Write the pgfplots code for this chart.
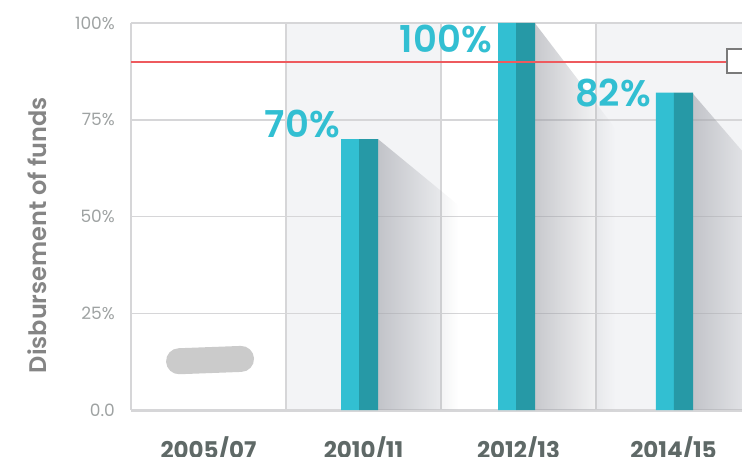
\documentclass[border=0pt]{standalone}
\usepackage{fontspec}
\setmainfont{Poppins}
\newfontfamily\semib{Poppins SemiBold}
\usepackage{pgfplots}
\pgfplotsset{compat=1.18}
\usetikzlibrary{fadings}
\definecolor{barL}{HTML}{32BFD2}
\definecolor{barD}{HTML}{2699A6}
\definecolor{colbg}{HTML}{F3F4F6}
\definecolor{gridc}{HTML}{D6D6D8}
\definecolor{redl}{HTML}{EE5A5E}
\definecolor{tickc}{HTML}{9EA2A2}
\definecolor{xlab}{HTML}{5F6967}
\definecolor{ylab}{HTML}{858585}
\definecolor{pill}{HTML}{CBCBCB}
\definecolor{shad}{HTML}{9A9CA4}
\definecolor{boxc}{HTML}{7A7A7A}
\tikzfading[name=fade right, left color=transparent!0, right color=transparent!100]
\begin{document}
\begin{tikzpicture}
\begin{axis}[
  set layers,
  scale only axis, width=611pt, height=387pt,
  xmin=-0.5, xmax=3.442, ymin=0, ymax=100,
  axis x line*=bottom, axis y line*=left,
  x axis line style={draw=gridc, line width=3pt},
  y axis line style={draw=gridc, line width=1.5pt},
  xtick={0,1,2,3}, xticklabels={2005/07,2010/11,2012/13,2014/15},
  ytick={0,25,50,75,100}, yticklabels={0.0,25\%,50\%,75\%,100\%},
  major tick length=0pt, minor tick length=0pt,
  minor xtick={0.5,1.5,2.5}, xminorgrids=true, xmajorgrids=false,
  ymajorgrids=true,
  grid style={draw=gridc, line width=1.5pt},
  minor grid style={draw=gridc, line width=1.5pt},
  xticklabel style={font=\bfseries\fontsize{23}{27}\selectfont, text=xlab, anchor=north, inner sep=0pt, yshift=-26pt},
  yticklabel style={font=\fontsize{17}{19}\selectfont, text=tickc, anchor=east, inner sep=0pt, xshift=-16pt},
  ylabel={Disbursement of funds},
  ylabel style={font=\semib\fontsize{24}{28}\selectfont, text=ylab, at={(axis description cs:-0.154,0.452)}, anchor=center},
  clip=true,
]
\begin{pgfonlayer}{axis background}
\fill[colbg] (axis cs:0.5,0) rectangle (axis cs:1.5,100);
\fill[colbg] (axis cs:2.5,0) rectangle (axis cs:3.442,100);
\end{pgfonlayer}
% shadows
\fill[shad, fill opacity=0.55, path fading=fade right] (axis cs:1.0935,70) -- (axis cs:1.61,53) -- (axis cs:1.61,0) -- (axis cs:1.0935,0) -- cycle;
\fill[shad, fill opacity=0.55, path fading=fade right] (axis cs:2.106,100) -- (axis cs:2.62,73) -- (axis cs:2.62,0) -- (axis cs:2.106,0) -- cycle;
\fill[shad, fill opacity=0.55, path fading=fade right] (axis cs:3.119,82) -- (axis cs:3.635,58) -- (axis cs:3.635,0) -- (axis cs:3.119,0) -- cycle;
% bars
\addplot[ybar, bar width=0.116, bar shift=-0.058, fill=barL, draw=none] coordinates {(0.971,70) (1.984,100) (3.003,82)};
\addplot[ybar, bar width=0.123, bar shift=0.0615, fill=barD, draw=none] coordinates {(0.971,70) (1.984,100) (3.003,82)};
% no data pill
\addplot[pill, line width=26pt, line cap=round] coordinates {(-0.19,12.6) (0.21,13.2)};
% target line
\addplot[redl, line width=2.2pt] coordinates {(-0.5,90) (3.345,90)};
\draw[boxc, line width=2pt, fill=white] (axis cs:3.345,87.1) rectangle (axis cs:3.6,93.3);
% value labels
\node[anchor=base east, text=barL, font=\semib\fontsize{37}{40}\selectfont, inner sep=0pt] at (axis cs:0.848,70.5) {70\%};
\node[anchor=base east, text=barL, font=\semib\fontsize{37}{40}\selectfont, inner sep=0pt] at (axis cs:1.829,92.5) {100\%};
\node[anchor=base east, text=barL, font=\semib\fontsize{37}{40}\selectfont, inner sep=0pt] at (axis cs:2.855,78.3) {82\%};
\coordinate (SW) at (rel axis cs:0,0);
\coordinate (NE) at (rel axis cs:1,1);
\end{axis}
\pgfresetboundingbox
\path[use as bounding box] ([xshift=-131pt,yshift=-46pt]SW) rectangle ([yshift=23pt]NE);
\end{tikzpicture}
\end{document}
